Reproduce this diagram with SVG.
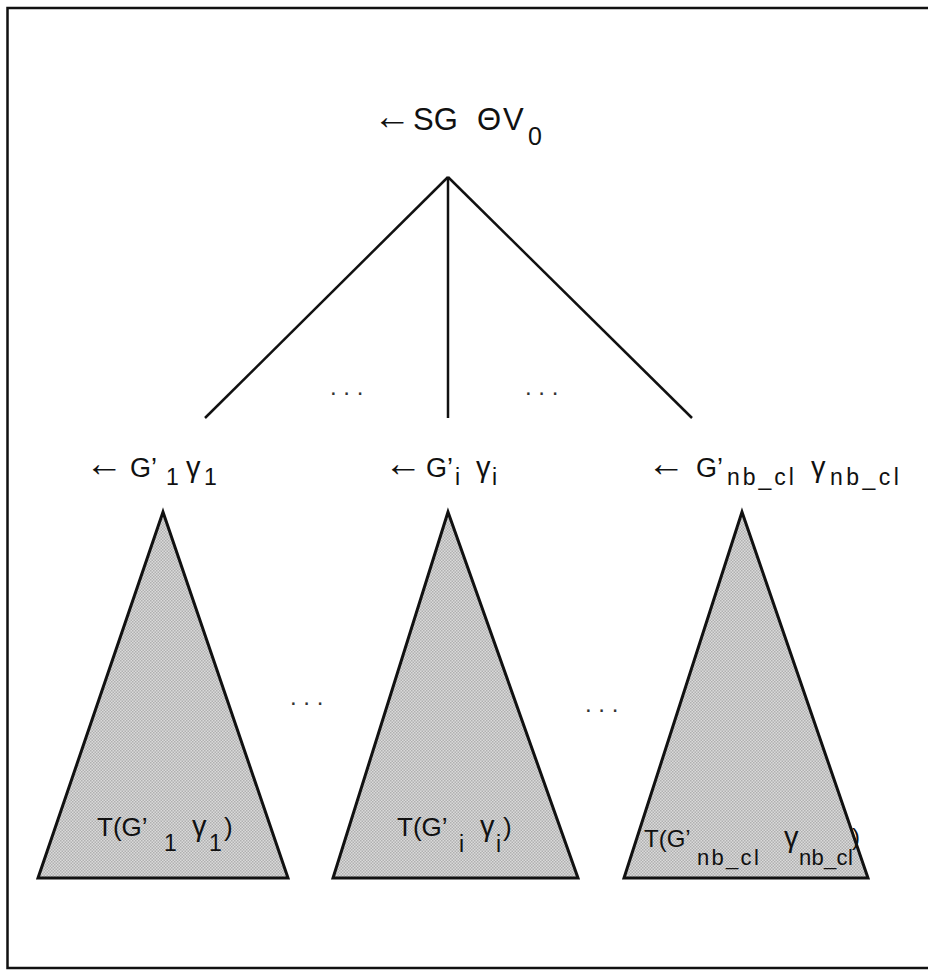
<svg xmlns="http://www.w3.org/2000/svg" width="928" height="971" viewBox="0 0 928 971">
<style>
text{font-family:"Liberation Sans",Arial,sans-serif;fill:#111}
.r{font-size:31px}
.rs{font-size:25px}
.l{font-size:27px}
.ls{font-size:23px}
.b{font-size:26px}
.bs{font-size:23px}
.bn{font-size:24px}
.bns{font-size:22px}
.g{font-size:29px}
.ar{font-size:38px}
.ln{stroke:#111;stroke-width:2.5;fill:none}
.tri{fill:url(#dots);stroke:#111;stroke-width:3;stroke-linejoin:miter}
.dots{font-size:24px;fill:#333}
</style>
<defs>
<pattern id="dots" width="3" height="3" patternUnits="userSpaceOnUse">
<rect width="3" height="3" fill="#dadada"/>
<rect width="1.5" height="1.5" fill="#b0b0b0"/>
<rect x="1.5" y="1.5" width="1.5" height="1.5" fill="#b0b0b0"/>
</pattern>
</defs>
<rect width="928" height="971" fill="#fff"/>
<rect x="7.5" y="8" width="930" height="960" fill="none" stroke="#111" stroke-width="2.5"/>
<g id="connectors">
<line class="ln" x1="448" y1="177" x2="205" y2="418"/>
<line class="ln" x1="448" y1="177" x2="448" y2="418"/>
<line class="ln" x1="448" y1="177" x2="692" y2="418"/>
</g>
<g id="root"><text class="r" y="130"><tspan class="ar" x="373" y="129">←</tspan><tspan x="413" y="130">SG</tspan><tspan x="477">Θ</tspan><tspan x="503">V</tspan><tspan class="rs" x="528" y="145">0</tspan></text></g>
<g id="dots-top">
<text class="dots" x="330" y="395">. . .</text>
<text class="dots" x="525" y="395">. . .</text>
</g>
<g id="child1"><text class="l" y="477"><tspan class="ar" x="85" y="476">←</tspan><tspan x="130" y="477">G’</tspan><tspan class="ls" x="166" y="485">1</tspan><tspan class="g" x="186" y="477">γ</tspan><tspan class="ls" x="204" y="485">1</tspan></text></g>
<g id="childi"><text class="l" y="477"><tspan class="ar" x="384" y="476">←</tspan><tspan x="426" y="477">G’</tspan><tspan class="ls" x="455" y="485">i</tspan><tspan class="g" x="476" y="477">γ</tspan><tspan class="ls" x="492" y="485">i</tspan></text></g>
<g id="childn"><text class="l" y="477"><tspan class="ar" x="647" y="476">←</tspan><tspan x="696" y="477">G’</tspan><tspan class="ls" x="727" y="485" style="letter-spacing:3px">nb_cl</tspan><tspan class="g" x="811" y="477">γ</tspan><tspan class="ls" x="830" y="485" style="letter-spacing:3.5px">nb_cl</tspan></text></g>
<g id="tree1"><polygon class="tri" points="163,512 38,878 288,878"/><text class="b" y="836"><tspan x="97">T(G’</tspan><tspan class="bs" x="164" y="851">1</tspan><tspan class="g" x="192" y="836">γ</tspan><tspan class="bs" x="209" y="851">1</tspan><tspan x="224" y="836">)</tspan></text></g>
<g id="treei"><polygon class="tri" points="448,512 333,878 578,878"/><text class="b" y="836"><tspan x="397">T(G’</tspan><tspan class="bs" x="459" y="852">i</tspan><tspan class="g" x="480" y="836">γ</tspan><tspan class="bs" x="496" y="852">i</tspan><tspan x="503" y="836">)</tspan></text></g>
<g id="treen"><polygon class="tri" points="742,512 624,878 868,878"/><text class="bn" y="847"><tspan x="644">T(G’</tspan><tspan class="bns" x="697" y="865" style="letter-spacing:2.3px">nb_cl</tspan><tspan class="g" x="784" y="847">γ</tspan><tspan class="bns" x="799" y="865" style="letter-spacing:0.3px">nb_cl</tspan><tspan x="852" y="845">)</tspan></text></g>
<g id="dots-bottom">
<text class="dots" x="290" y="705">. . .</text>
<text class="dots" x="585" y="712">. . .</text>
</g>
</svg>
